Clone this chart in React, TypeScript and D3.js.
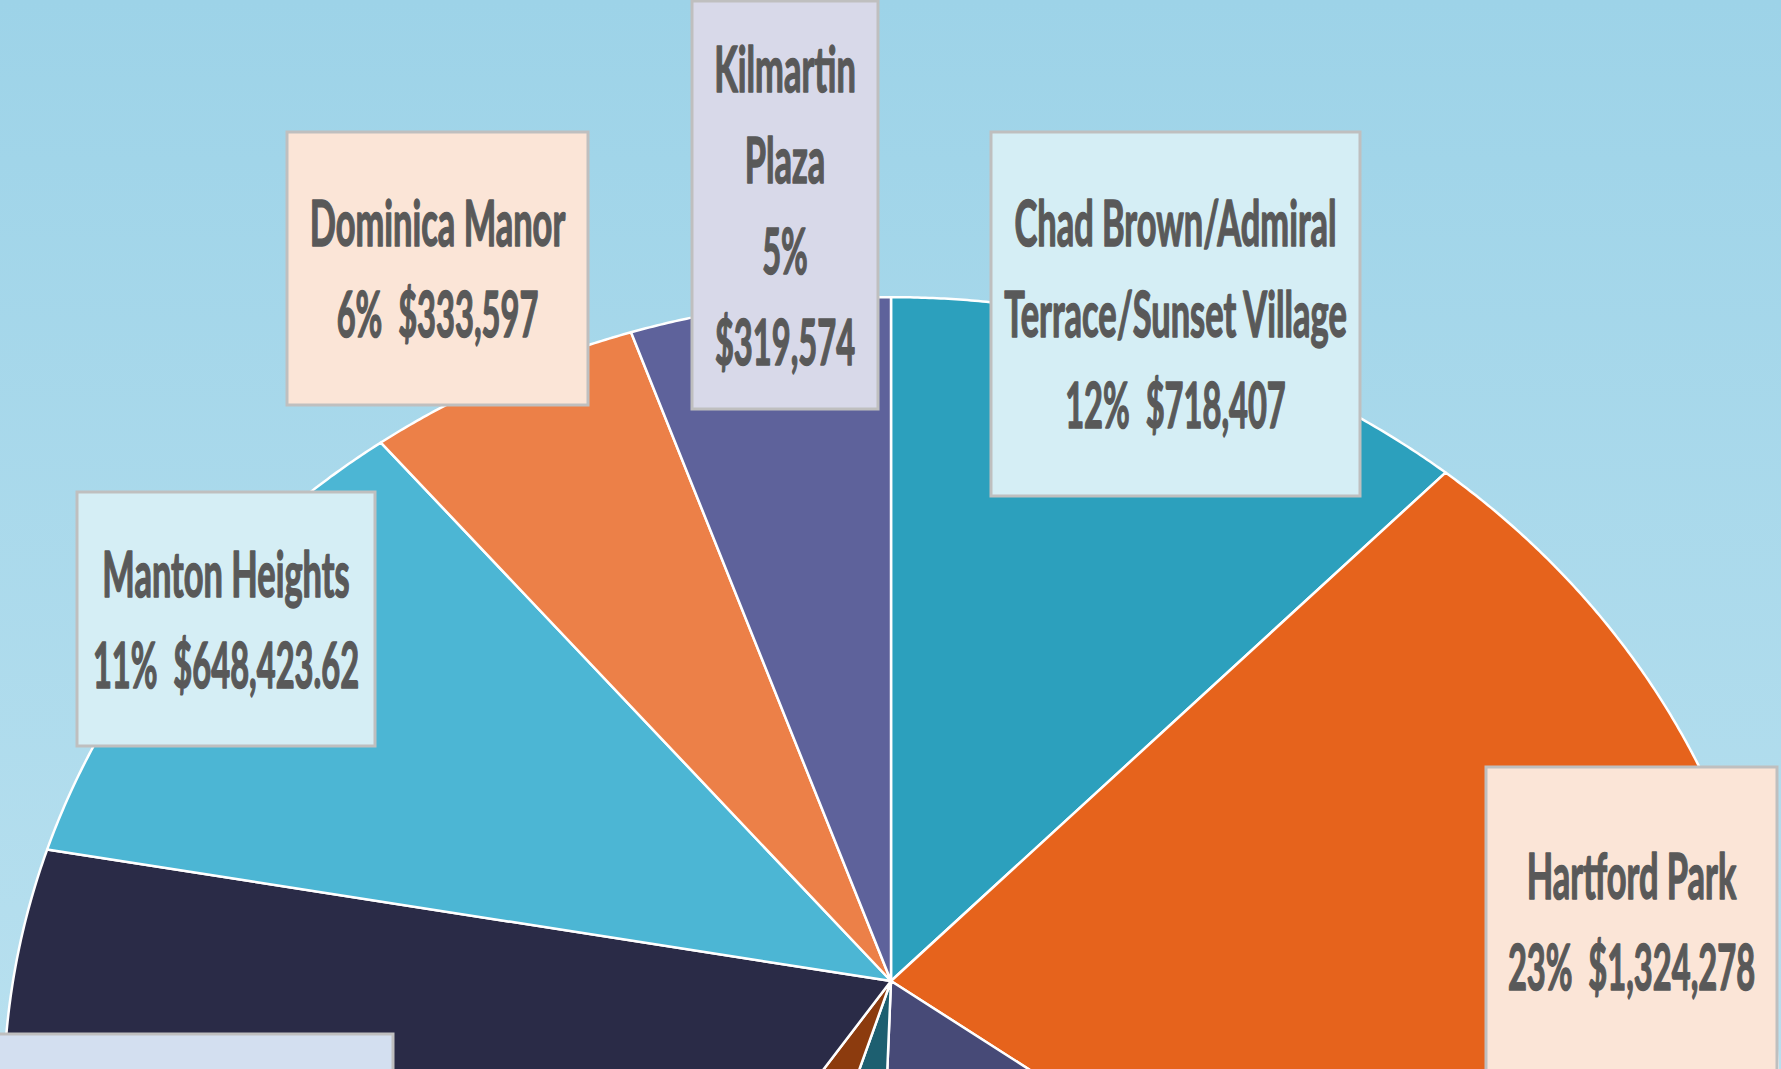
import React from "react";
import * as d3 from "d3";

const W = 1781;
const H = 1069;

// ---- data ----
const categories = [
  "Chad Brown/Admiral Terrace/Sunset Village",
  "Hartford Park",
  "Development G",
  "Development H",
  "Development I",
  "Development J",
  "Manton Heights",
  "Dominica Manor",
  "Kilmartin Plaza",
];
const amounts = [718407, 1324278, 917000, 253000, 269000, 1067000, 648423.62, 333597, 319574];
const sliceColors = [
  "#2ca0bd",
  "#e6631c",
  "#474a77",
  "#1d5f70",
  "#8c3b0e",
  "#2a2b47",
  "#4cb6d4",
  "#ec8048",
  "#5e629b",
];

// ---- label layout (callout boxes) ----
type LabelLayout = {
  idx: number;
  x: number;
  y: number;
  w: number;
  h: number;
  fill: string;
  words: number[]; // words per name line
  splitValue: boolean; // percent and value on separate lines
  showText: boolean;
};
const labelLayout: LabelLayout[] = [
  { idx: 0, x: 991, y: 132, w: 369, h: 364, fill: "#d5eef5", words: [2, 2], splitValue: false, showText: true },
  { idx: 1, x: 1486, y: 767, w: 291, h: 308, fill: "#fbe5d7", words: [2], splitValue: false, showText: true },
  { idx: 5, x: -10, y: 1034, w: 403, h: 200, fill: "#d3dff0", words: [2], splitValue: false, showText: false },
  { idx: 6, x: 77, y: 492, w: 298, h: 254, fill: "#d5eef5", words: [2], splitValue: false, showText: true },
  { idx: 7, x: 287, y: 132, w: 301, h: 273, fill: "#fbe5d7", words: [2], splitValue: false, showText: true },
  { idx: 8, x: 692, y: 1, w: 186, h: 408, fill: "#d8d9e9", words: [1, 1], splitValue: true, showText: true },
];

// ---- pie geometry (perspective-tilted pie) ----
const CX = 891;
const CY = 981;
const RX = 878;
const RY = 783;
const K = 0.145;
const FONT_SIZE = 64;
const LINE_STEP = 91;
const NAME_SX = 0.538;
const NUM_SX = 0.51;

function project(a: number): [number, number] {
  const c = Math.cos(a);
  const s = Math.sin(a);
  const d = 1 + K * c;
  return [CX + (RX * s) / d, CY - (RY * c) / d];
}

export default function App() {
  const total = d3.sum(amounts);
  const pie = d3
    .pie<number>()
    .sort(null)
    .value((d) => d)
    .startAngle(0)
    .endAngle(2 * Math.PI);
  const arcs = pie(amounts);
  const line = d3.line();

  const slicePath = (a: d3.PieArcDatum<number>) => {
    const span = a.endAngle - a.startAngle;
    const n = Math.max(2, Math.ceil(span / 0.005));
    const pts = d3.range(n + 1).map((i) => project(a.startAngle + (span * i) / n));
    return (line([[CX, CY], ...pts]) || "") + "Z";
  };

  const fmtMoney = d3.format("$,.2~f");
  const fmtPct = (v: number) => `${Math.round((v / total) * 100)}%`;

  const labelLines = (l: LabelLayout) => {
    const words = categories[l.idx].split(" ");
    const lines: { t: string; num: boolean }[] = [];
    let p = 0;
    for (const n of l.words) {
      lines.push({ t: words.slice(p, p + n).join(" "), num: false });
      p += n;
    }
    const pct = fmtPct(amounts[l.idx]);
    const val = fmtMoney(amounts[l.idx]);
    if (l.splitValue) {
      lines.push({ t: pct, num: true }, { t: val, num: true });
    } else {
      lines.push({ t: `${pct}  ${val}`, num: true });
    }
    return lines;
  };

  return (
    <svg
      width={W}
      height={H}
      viewBox={`0 0 ${W} ${H}`}
      style={{ position: "absolute", left: 0, top: 0, display: "block" }}
    >
      <defs>
        <linearGradient id="bg" x1="0" y1="0" x2="0" y2="1">
          <stop offset="0%" stopColor="#9dd3e8" />
          <stop offset="100%" stopColor="#b8e0ef" />
        </linearGradient>
      </defs>
      <rect x={0} y={0} width={W} height={H} fill="url(#bg)" />
      <g>
        {arcs.map((a, i) => (
          <path
            key={categories[i]}
            d={slicePath(a)}
            fill={sliceColors[i]}
            stroke="#ffffff"
            strokeWidth={2.5}
            strokeLinejoin="round"
          />
        ))}
      </g>
      <g>
        {labelLayout.map((l) => {
          const lines = labelLines(l);
          const midY = l.y + l.h / 2;
          const n = lines.length;
          return (
            <g key={l.idx}>
              <rect x={l.x} y={l.y} width={l.w} height={l.h} fill={l.fill} stroke="#bfbfbf" strokeWidth={3} />
              {l.showText &&
                lines.map((ln, j) => {
                  const by = midY + 23 + (j - (n - 1) / 2) * LINE_STEP;
                  return (
                    <text
                      key={j}
                      transform={`translate(${l.x + l.w / 2},${by}) scale(${ln.num ? NUM_SX : NAME_SX},1)`}
                      textAnchor="middle"
                      fontFamily="Lato, 'Open Sans', sans-serif"
                      fontWeight={700}
                      fontSize={FONT_SIZE}
                      fill="#595959"
                      stroke="#595959"
                      strokeWidth={1.6}
                      strokeLinejoin="round"
                      style={{ whiteSpace: "pre" }}
                    >
                      {ln.t}
                    </text>
                  );
                })}
            </g>
          );
        })}
      </g>
    </svg>
  );
}
